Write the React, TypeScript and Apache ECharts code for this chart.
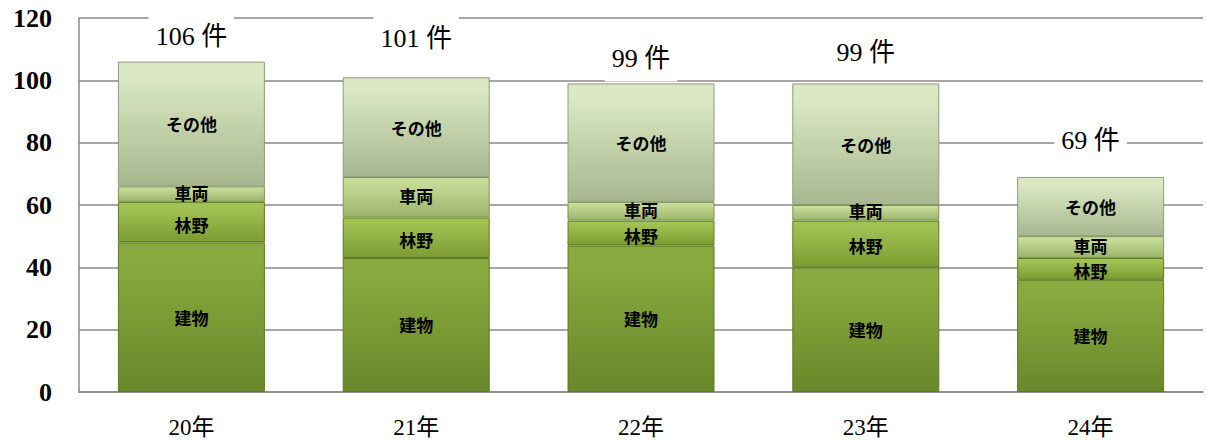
import React, { useEffect, useRef } from "react";
import * as echarts from "echarts";

const categories = ["20年", "21年", "22年", "23年", "24年"];
const buildings = [48, 43, 47, 40, 36]; // 建物
const forest = [13, 13, 8, 15, 7]; // 林野
const vehicles = [5, 13, 6, 5, 7]; // 車両
const others = [40, 32, 38, 39, 19]; // その他
const yTicks = [0, 20, 40, 60, 80, 100, 120];

const totals = categories.map((_, i) => buildings[i] + forest[i] + vehicles[i] + others[i]);

// label gap above each bar top (style)
const LABEL_GAP = [2, 16, 2, 8, 13];

const SERIF = "'Liberation Serif', 'DejaVu Serif', 'Noto Sans CJK JP', serif";
const CJK = "'Noto Sans CJK JP', 'Noto Sans', sans-serif";

function grad(top: string, bottom: string) {
  return new echarts.graphic.LinearGradient(0, 0, 0, 1, [
    { offset: 0, color: top },
    { offset: 0.12, color: top },
    { offset: 1, color: bottom },
  ]);
}

export default function App() {
  const ref = useRef<HTMLDivElement>(null);
  useEffect(() => {
    document.body.style.margin = "0";
    if (!ref.current) return;
    const chart = echarts.init(ref.current, null, { renderer: "svg" });
    const inside = {
      show: true,
      position: "inside" as const,
      color: "#000",
      fontSize: 17,
      lineHeight: 17,
      fontWeight: "bold" as const,
      fontFamily: CJK,
    };
    const mk = (
      name: string,
      data: number[],
      top: string,
      bottom: string,
      border: string,
      dy: number
    ) => ({
      name,
      type: "bar",
      stack: "total",
      barWidth: 147,
      data,
      itemStyle: { color: grad(top, bottom), borderColor: border, borderWidth: 1 },
      label: { ...inside, formatter: name, offset: [0, dy] },
    });
    const totalLabelSeries: any = {
      name: "total",
      type: "bar",
      stack: "total",
      barWidth: 147,
      data: others.map((_, i) => ({
        value: 0,
        label: {
          show: true,
          position: "top",
          distance: LABEL_GAP[i],
          formatter: totals[i] + " 件",
          fontSize: 26,
          fontFamily: SERIF,
          color: "#000",
          backgroundColor: "#fff",
          padding: [10, 7],
        },
      })),
      itemStyle: { color: "transparent" },
      z: 5,
    };
    chart.setOption({
      animation: false,
      grid: { left: 79, right: 3, top: 18, bottom: 50, containLabel: false },
      xAxis: {
        type: "category",
        data: categories,
        axisLine: { show: true, lineStyle: { color: "#8a8a8a", width: 1.5 } },
        axisTick: { show: false },
        axisLabel: { fontSize: 23, fontFamily: SERIF, color: "#000", margin: 24 },
      },
      yAxis: {
        type: "value",
        min: yTicks[0],
        max: yTicks[yTicks.length - 1],
        interval: 20,
        axisLine: { show: true, lineStyle: { color: "#8a8a8a", width: 1.5 } },
        axisTick: { show: false },
        splitLine: { show: true, lineStyle: { color: "#8a8a8a", width: 1.5 } },
        axisLabel: {
          fontSize: 26,
          fontWeight: "bold",
          fontFamily: SERIF,
          color: "#000",
          margin: 27,
        },
      },
      series: [
        mk("建物", buildings, "#88aa3e", "#68882a", "#5d7a26", 0),
        mk("林野", forest, "#a2c254", "#7c9c33", "#5d7a26", 2),
        mk("車両", vehicles, "#c8dc9a", "#9cb46a", "#7d9650", -2),
        mk("その他", others, "#dbe8c3", "#a8b78f", "#8f9c7a", 0),
        totalLabelSeries,
      ],
    });
    return () => chart.dispose();
  }, []);
  return <div ref={ref} style={{ width: 1206, height: 442 }} />;
}
